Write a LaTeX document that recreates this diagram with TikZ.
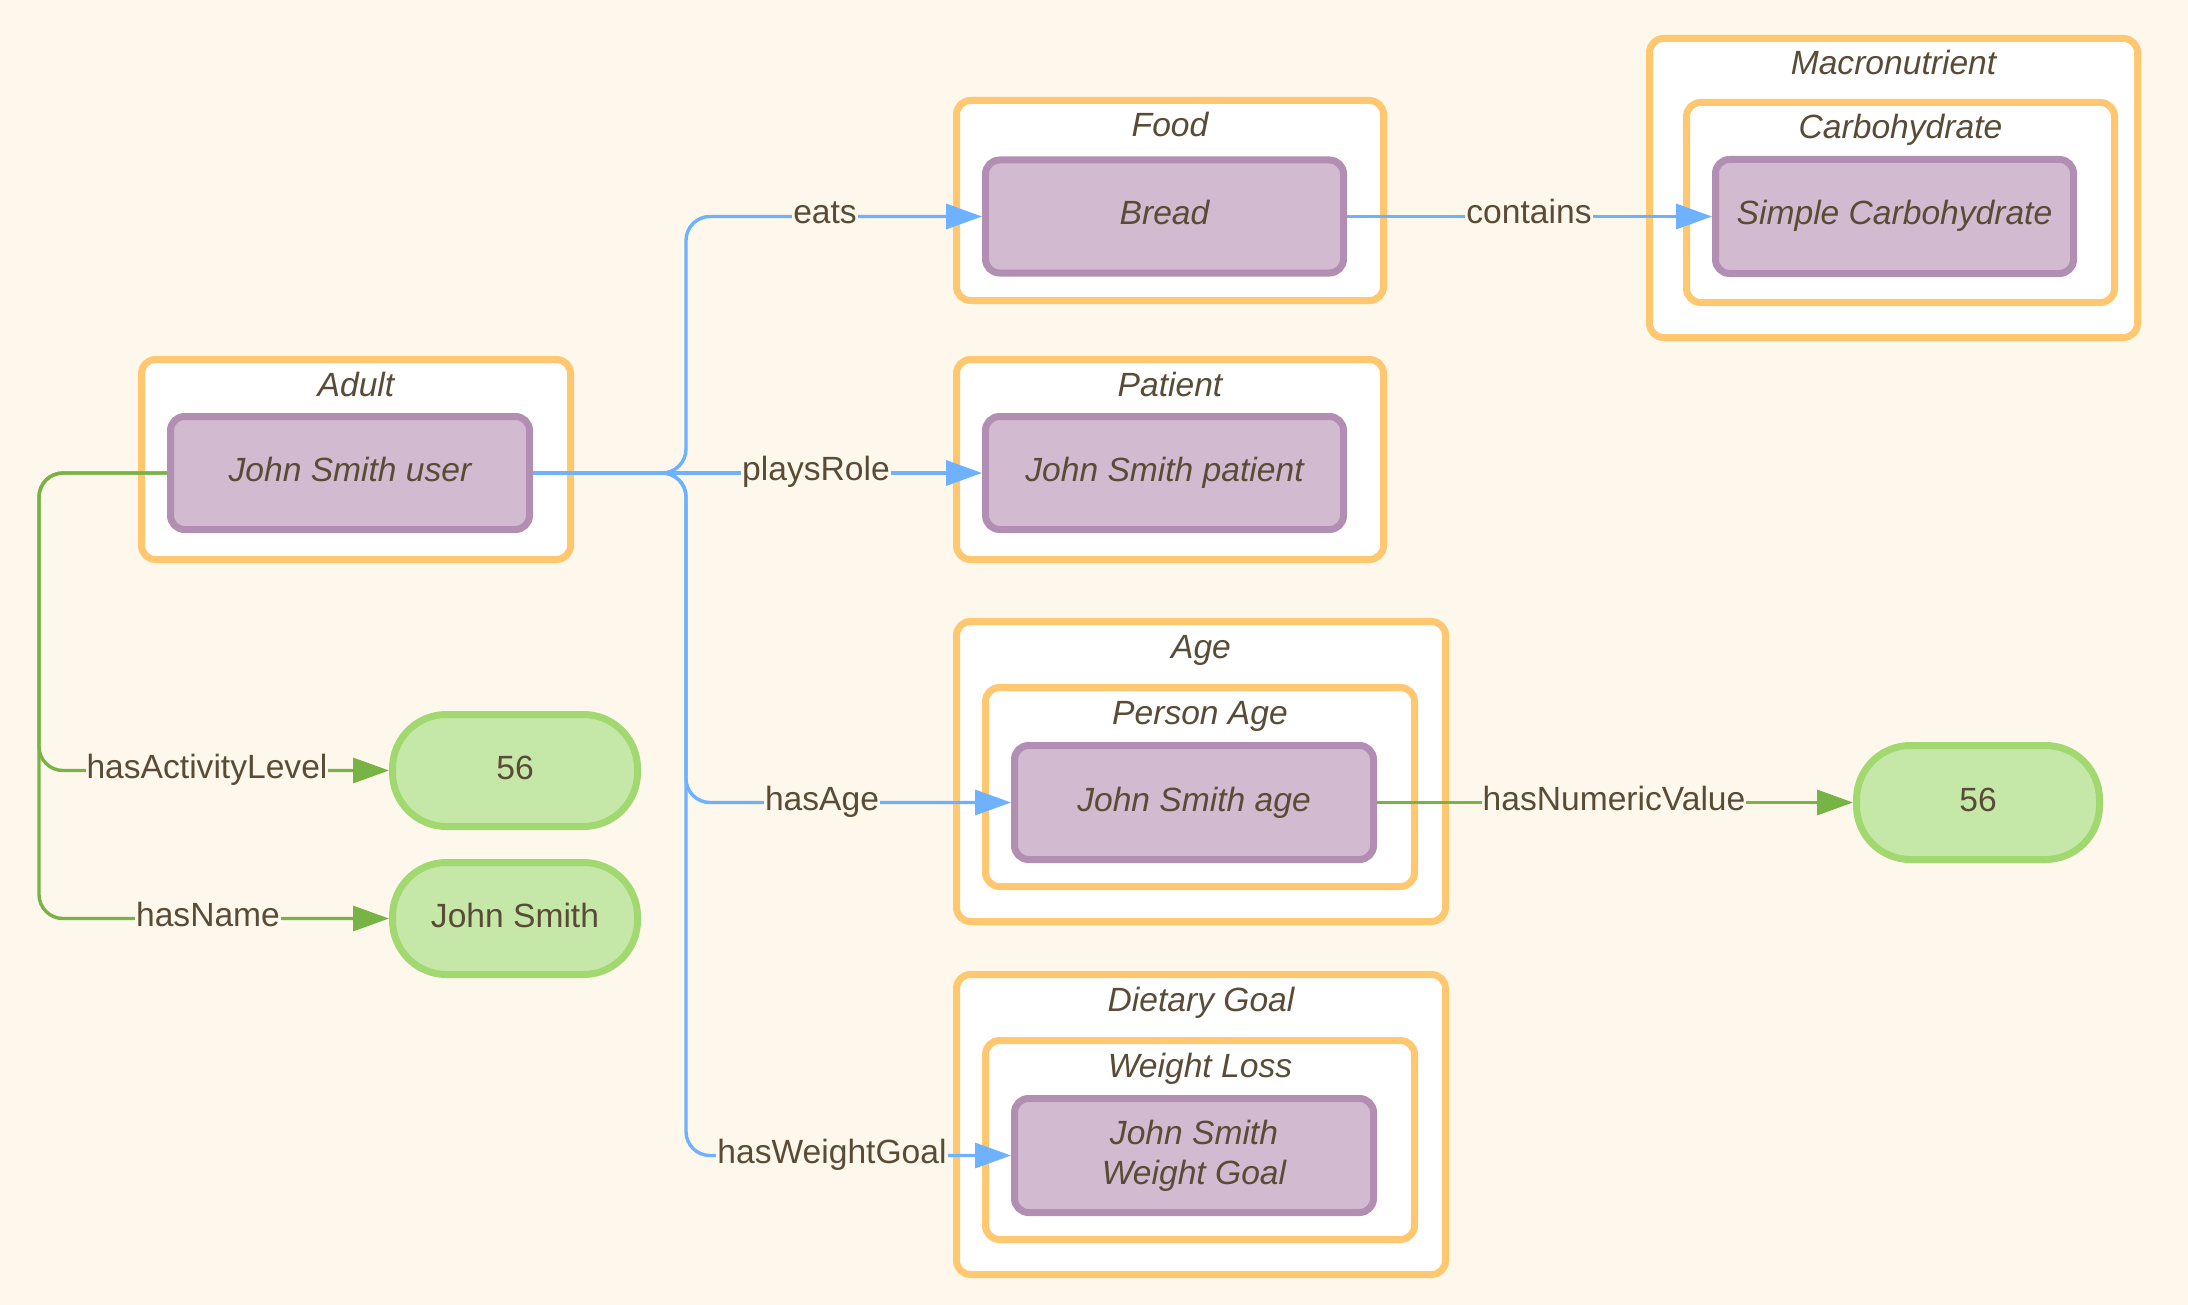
\documentclass[tikz,border=0pt]{standalone}
\usepackage{fontspec}
\setmainfont{Liberation Sans}
\usetikzlibrary{arrows.meta}
\definecolor{bgc}{HTML}{FEF7EB}
\definecolor{orangeB}{HTML}{FFC870}
\definecolor{purpleF}{HTML}{D2BAD0}
\definecolor{purpleB}{HTML}{B28EB3}
\definecolor{greenF}{HTML}{C5E8A9}
\definecolor{greenB}{HTML}{A1D870}
\definecolor{blueL}{HTML}{6DB1FF}
\definecolor{greenL}{HTML}{78B445}
\definecolor{txt}{HTML}{5A4B36}
\begin{document}
\begin{tikzpicture}[x=0.5pt,y=-0.5pt,
  font=\fontsize{16.8}{20}\selectfont, text=txt,
  fixh/.style={text height=12pt, text depth=3.5pt},
  cluster/.style={draw=orangeB, fill=white, line width=3.5pt, rounded corners=7pt, inner sep=0pt},
  ctitle/.style={font=\fontsize{16.8}{20}\selectfont\itshape, inner sep=0pt, fixh},
  inst/.style={draw=purpleB, fill=purpleF, line width=3.5pt, rounded corners=7pt, align=center,
    font=\fontsize{16.8}{20}\selectfont\itshape},
  lit/.style={draw=greenB, fill=greenF, line width=3.5pt, rounded corners=27pt, fixh},
  elabel/.style={fill=bgc, inner sep=0.5pt, fixh},
  bedge/.style={draw=blueL, line width=1.7pt, rounded corners=12pt, -{Triangle[length=18pt,width=12.5pt]}},
  gedge/.style={draw=greenL, line width=1.7pt, rounded corners=12pt, -{Triangle[length=18pt,width=12.5pt]}}
]
\useasboundingbox[fill=bgc] (0,0) rectangle (2188,1305);

% clusters
\node[cluster, minimum width=214.5pt, minimum height=100pt] (adultC) at (356,459.5) {};
\node[ctitle] (adultT) at (356,387.5) {Adult};
\node[cluster, minimum width=213.5pt, minimum height=100pt] (foodC) at (1170,200.5) {};
\node[ctitle] (foodT) at (1170,128.5) {Food};
\node[cluster, minimum width=244pt, minimum height=149.5pt] (macroC) at (1893.5,188) {};
\node[ctitle] (macroT) at (1893.5,66.5) {Macronutrient};
\node[cluster, minimum width=214pt, minimum height=100pt] (carbC) at (1900.5,202.5) {};
\node[ctitle] (carbT) at (1900.5,130.5) {Carbohydrate};
\node[cluster, minimum width=213.5pt, minimum height=100pt] (patientC) at (1170,459.5) {};
\node[ctitle] (patientT) at (1170,387.5) {Patient};
\node[cluster, minimum width=244.5pt, minimum height=150pt] (ageC) at (1201,771.5) {};
\node[ctitle] (ageT) at (1201,649.5) {Age};
\node[cluster, minimum width=214.5pt, minimum height=99.5pt] (personAgeC) at (1200,787) {};
\node[ctitle] (personAgeT) at (1200,715.5) {Person Age};
\node[cluster, minimum width=244.5pt, minimum height=150pt] (dietC) at (1201,1124.5) {};
\node[ctitle] (dietT) at (1201,1002.5) {Dietary Goal};
\node[cluster, minimum width=214.5pt, minimum height=99.5pt] (wlC) at (1200,1140) {};
\node[ctitle] (wlT) at (1200,1068.5) {Weight Loss};

% instances
\node[inst, fixh, minimum width=179.5pt, minimum height=56.5pt] (userN) at (350,473) {John Smith user};
\node[inst, fixh, minimum width=179pt, minimum height=56.5pt] (breadN) at (1164.5,216.5) {Bread};
\node[inst, fixh, minimum width=179pt, minimum height=57pt] (scN) at (1894.5,216.5) {Simple Carbohydrate};
\node[inst, fixh, minimum width=179pt, minimum height=56.5pt] (patientN) at (1164.5,473) {John Smith patient};
\node[inst, fixh, minimum width=179.5pt, minimum height=57pt] (ageN) at (1194,802.5) {John Smith age};
\node[inst, minimum width=179.5pt, minimum height=57pt] (wgN) at (1194,1155.5) {John Smith\\Weight Goal};

% literals
\node[lit, minimum width=122.5pt, minimum height=56pt] (v56a) at (515,770.5) {56};
\node[lit, minimum width=122.5pt, minimum height=56pt] (vName) at (515,918.5) {John Smith};
\node[lit, minimum width=121.5pt, minimum height=57pt] (v56b) at (1978,802.5) {56};

% junctions
\coordinate (bj) at (686,473);
\coordinate (gj) at (39,473);

% edges
\draw[bedge] (userN.east) -- (bj) |- (breadN.west);
\draw[bedge] (userN.east) -- (patientN.west);
\draw[bedge] (userN.east) -- (bj) |- (ageN.west);
\draw[bedge] (userN.east) -- (bj) |- (wgN.west);
\draw[bedge] (breadN.east) -- (scN.west);
\draw[gedge] (ageN.east) -- (v56b.west);
\draw[gedge] (userN.west) -- (gj) |- (v56a.west);
\draw[gedge] (userN.west) -- (gj) |- (vName.west);

% edge labels
\node[elabel] (lEats) at (825,215.5) {eats};
\node[elabel] (lPlays) at (816,472) {playsRole};
\node[elabel] (lAge) at (822,801.5) {hasAge};
\node[elabel] (lWG) at (832,1154.5) {hasWeightGoal};
\node[elabel] (lCont) at (1529,215.5) {contains};
\node[elabel] (lNum) at (1614,801.5) {hasNumericValue};
\node[elabel] (lAct) at (207,769.5) {hasActivityLevel};
\node[elabel] (lName) at (208,917.5) {hasName};
\end{tikzpicture}
\end{document}
